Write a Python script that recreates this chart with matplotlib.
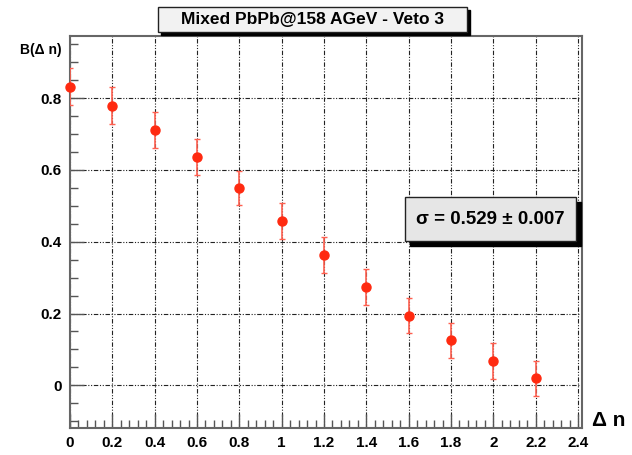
import matplotlib
matplotlib.use("Agg")
import matplotlib.pyplot as plt
from matplotlib.ticker import MultipleLocator
from matplotlib.patches import Rectangle

plt.rcParams['font.family'] = ['Liberation Sans', 'DejaVu Sans']

dn = [0.0, 0.2, 0.4, 0.6, 0.8, 1.0, 1.2, 1.4, 1.6, 1.8, 2.0, 2.2]
B = [0.832, 0.779, 0.712, 0.636, 0.549, 0.457, 0.363, 0.273, 0.194, 0.125, 0.068, 0.020]
Berr = [0.051, 0.051, 0.050, 0.051, 0.048, 0.050, 0.051, 0.050, 0.049, 0.049, 0.051, 0.049]
title = "Mixed PbPb@158 AGeV - Veto 3"
sigma_text = "σ = 0.529 ± 0.007"

fig = plt.figure(figsize=(6.32, 4.55), dpi=100)
ax = fig.add_axes([70/632, 27.3/455, 511.7/632, 391.7/455])
ax.set_xlim(0, 2.4175)
ax.set_ylim(-0.118, 0.973)

ax.errorbar(dn, B, yerr=Berr, fmt='none', ecolor='#ff6050', elinewidth=1.2,
            capsize=2.5, capthick=1.0, zorder=3)
ax.plot(dn, B, 'o', color='#ff2a10', markersize=6.5, zorder=4, clip_on=False)

ax.xaxis.set_major_locator(MultipleLocator(0.2))
ax.xaxis.set_minor_locator(MultipleLocator(0.04))
ax.yaxis.set_major_locator(MultipleLocator(0.2))
ax.yaxis.set_minor_locator(MultipleLocator(0.05))
ax.tick_params(which='both', direction='in', top=False, right=False, color='#555555', width=1.0)
ax.tick_params(which='major', length=10, labelsize=11, pad=6)
ax.tick_params(which='minor', length=6)
ax.set_xticks([0, 0.2, 0.4, 0.6, 0.8, 1.0, 1.2, 1.4, 1.6, 1.8, 2.0, 2.2, 2.4])
ax.set_xticklabels(['0', '0.2', '0.4', '0.6', '0.8', '1', '1.2', '1.4', '1.6', '1.8', '2', '2.2', '2.4'],
                   fontweight='bold')
ax.set_yticks([0, 0.2, 0.4, 0.6, 0.8])
ax.set_yticklabels(['0', '0.2', '0.4', '0.6', '0.8'], fontweight='bold')

ax.grid(True, which='major', color='#222222', linewidth=0.8,
        linestyle=(0, (4, 1.5, 1, 1.5, 1, 1.5)))
for s in ax.spines.values():
    s.set_color('#666666')
    s.set_linewidth(1.5)

fig.text(20/632, 1 - 50/455, "B(Δ n)", fontsize=10, fontweight='bold',
         ha='left', va='center')
fig.text(592/632, 1 - 421/455, "Δ n", fontsize=15, fontweight='bold',
         ha='left', va='center')

def box(x0, y0, x1, y1, face, sh=4):
    fig.patches.append(Rectangle(((x0 + sh) / 632, 1 - (y1 + sh) / 455),
                                 (x1 - x0) / 632, (y1 - y0) / 455,
                                 transform=fig.transFigure, facecolor='black',
                                 edgecolor='black', zorder=10))
    fig.patches.append(Rectangle((x0 / 632, 1 - y1 / 455),
                                 (x1 - x0) / 632, (y1 - y0) / 455,
                                 transform=fig.transFigure, facecolor=face,
                                 edgecolor='#222222', linewidth=1.0, zorder=11))

box(158, 7, 467, 32, '#f2f2f2', sh=3)
fig.text((158 + 467) / 2 / 632, 1 - 19.5 / 455, title, fontsize=12.5, fontweight='bold',
         ha='center', va='center', zorder=12)

box(405, 197, 576, 241, '#e6e6e6', sh=5)
fig.text((405 + 576) / 2 / 632, 1 - 219 / 455, sigma_text, fontsize=13.5, fontweight='bold',
         ha='center', va='center', zorder=12)

fig.savefig("out.png", dpi=100)
